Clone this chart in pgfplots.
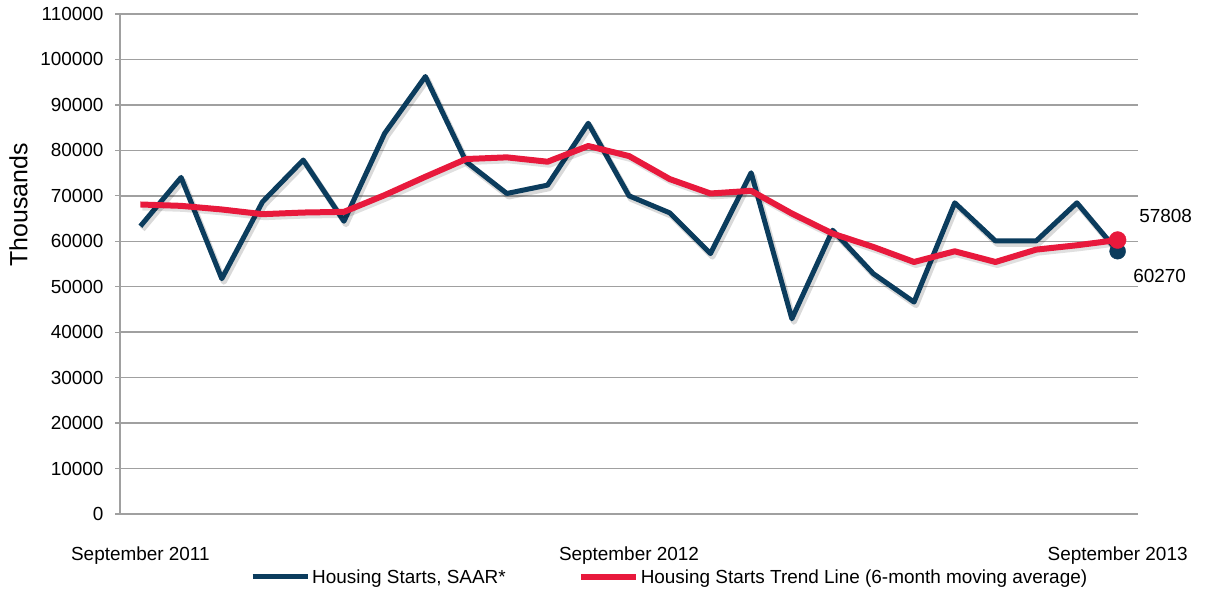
\documentclass[border=0pt]{standalone}
\usepackage{fontspec}
\setmainfont{Liberation Sans}
\usepackage{pgfplots}
\pgfplotsset{compat=1.18}
\definecolor{navy}{HTML}{0B3C5D}
\definecolor{redl}{HTML}{E8193C}
\definecolor{gridc}{HTML}{A0A0A0}
\pgfplotstableread{
x y
0 63310
1 74040
2 51765
3 68680
4 77870
5 64410
6 83750
7 96250
8 77500
9 70510
10 72350
11 85960
12 70000
13 66250
14 57280
15 75070
16 42940
17 62430
18 52870
19 46620
20 68460
21 60070
22 60070
23 68460
24 57808
}\starts
\pgfplotstableread{
x y
0 68090
1 67790
2 66990
3 65960
4 66320
5 66470
6 70150
7 74190
8 78090
9 78460
10 77500
11 80960
12 78750
13 73680
14 70510
15 71100
16 66100
17 61690
18 58750
19 55440
20 57790
21 55440
22 58160
23 59120
24 60270
}\trend
\begin{document}
\begin{tikzpicture}
\begin{axis}[
  scale only axis, width=1018bp, height=500bp,
  xmin=-0.5, xmax=24.5, ymin=0, ymax=110000,
  ytick={0,10000,...,110000},
  scaled y ticks=false,
  /pgf/number format/assume math mode=true,
  /pgf/number format/fixed,
  /pgf/number format/1000 sep={},
  xtick={0,12,24},
  xticklabels={September 2011, September 2012, September 2013},
  font=\fontsize{19}{22}\selectfont,
  axis x line*=bottom, axis y line*=left,
  ymajorgrids,
  grid style={gridc, line width=1.5bp},
  axis line style={gridc, line width=1.5bp},
  major tick length=5bp, tick align=outside,
  x tick style={draw=none},
  y tick style={gridc, line width=1.2bp},
  yticklabel style={xshift=-8bp},
  xticklabel style={yshift=-24bp},
  ylabel={Thousands},
  ylabel style={at={(rel axis cs:-0.0997,0.618)}, anchor=center, font=\fontsize{25}{28}\selectfont},
  clip=false,
  legend columns=2,
  legend style={at={(rel axis cs:0.54,-0.126)}, anchor=center, draw=none, fill=none,
    font=\fontsize{19}{22}\selectfont,
    /tikz/every even column/.append style={column sep=70bp}},
  legend image code/.code={\draw[#1] (0bp,0bp) -- (55bp,0bp);},
]
\addplot[black, opacity=0.15, line width=6bp, line join=round, xshift=2bp, yshift=-3bp, forget plot] table[x=x,y=y] {\starts};
\addplot[navy, line width=5bp, line join=round] table[x=x,y=y] {\starts};
\addlegendentry{Housing Starts, SAAR*}
\addplot[black, opacity=0.12, line width=6bp, line join=round, xshift=2bp, yshift=-3bp, forget plot] table[x=x,y=y] {\trend};
\addplot[redl, line width=6bp, line join=round] table[x=x,y=y] {\trend};
\addlegendentry{Housing Starts Trend Line (6-month moving average)}
\addplot[navy, only marks, mark=*, mark size=8bp, forget plot] coordinates {(24,57808)};
\addplot[redl, only marks, mark=*, mark size=8.5bp, forget plot] coordinates {(24,60270)};
\node[font=\fontsize{19}{22}\selectfont] at (axis cs:24,57808) [xshift=48bp, yshift=35bp] {57808};
\node[font=\fontsize{19}{22}\selectfont] at (axis cs:24,60270) [xshift=42bp, yshift=-36bp] {60270};
\path (rel axis cs:-0.1179,-0.168) rectangle (rel axis cs:1.0688,1.028);
\end{axis}
\end{tikzpicture}
\end{document}
